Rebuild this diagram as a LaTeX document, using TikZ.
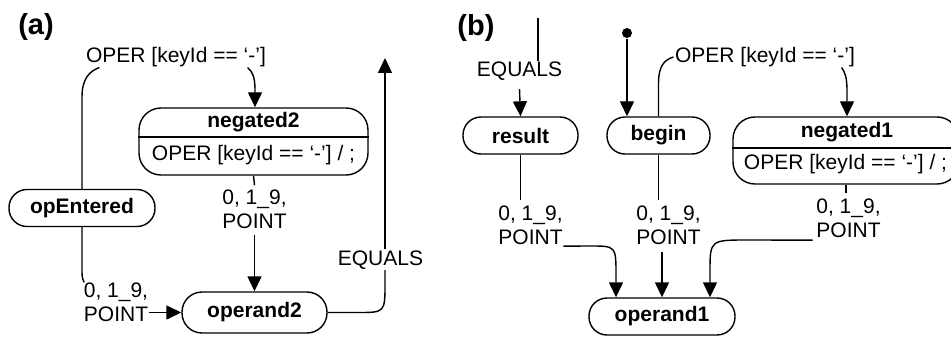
\documentclass[tikz,border=0pt]{standalone}
\usepackage{fontspec}
\setmainfont{Liberation Sans}
\usetikzlibrary{arrows.meta}
\begin{document}
\begin{tikzpicture}[x=1pt,y=-1pt,line width=1.4pt,
  arr/.style={-{Triangle[length=15pt,width=14pt]}},
  state/.style={draw,rounded corners=18pt,minimum height=37pt,inner sep=0pt,
    font=\bfseries\fontsize{21}{24}\selectfont},
  negbox/.style={draw,rounded corners=22pt,minimum height=67pt,inner sep=0pt},
  btxt/.style={inner sep=0pt,font=\bfseries\fontsize{21}{24}\selectfont},
  lbl/.style={inner sep=0pt,align=center,font=\fontsize{21}{24}\selectfont},
  panel/.style={inner sep=0pt,font=\bfseries\fontsize{29}{30}\selectfont}]
\useasboundingbox (0,0) rectangle (951,337);
\clip (0,0) rectangle (951,337);
% ---------- panel (a)
\node[panel] (pa) at (36,27) {(a)};
\node[lbl] (la1) at (176,57) {OPER [keyId == `-']};
\node[negbox,minimum width=229pt] (neg2) at (253.5,141.5) {};
\draw (neg2.west |- 0,137) -- (neg2.east |- 0,137);
\node[btxt] (neg2t) at (253.5,122.5) {negated2};
\node[lbl] (neg2b) at (253.5,155) {OPER [keyId == `-'] / ;};
\node[state,minimum width=146pt] (opE) at (82,208) {opEntered};
\node[state,minimum width=145pt,minimum height=41pt,rounded corners=20pt] (op2) at (254.5,312.5) {operand2};
\node[lbl] (la2) at (116,302.5) {0, 1\_9,\\POINT};
\node[lbl] (la3) at (254.5,209.5) {0, 1\_9,\\POINT};
\node[lbl] (la4) at (380.5,260) {EQUALS};
\coordinate (outA) at (385,58);
\draw (opE.north) -- (82,97) .. controls (82,78) and (90,71) .. ([xshift=14pt]la1.south west);
\draw[arr] ([xshift=-19pt]la1.south east) .. controls (253,72) and (255,78) .. (255,90) -- (neg2.north -| 255,0);
\draw (opE.south) -- (82,272) .. controls (82,278) and (83,280) .. ([xshift=1pt]la2.north west);
\draw[arr] (la2.east |- op2.west) -- (op2.west);
\draw (neg2.south) -- ([yshift=4pt]la3.north);
\draw[arr] ([yshift=-5pt]la3.south) -- (op2.north);
\draw (op2.east) -- (358,312.5) .. controls (385,312.5) .. (385,283) -- (385,270);
\draw[arr] (385,249) -- (outA);
% ---------- panel (b)
\node[panel] (pb) at (476,28) {(b)};
\coordinate (inB) at (538,18);
\node[lbl] (lb0) at (519.5,71) {EQUALS};
\node[state,minimum width=115pt] (res) at (520.5,135.5) {result};
\node[state,minimum width=103pt] (beg) at (658.5,135.5) {begin};
\node[circle,fill,inner sep=0pt,minimum size=10pt] (init) at (627,33) {};
\node[lbl] (lb1) at (765,57) {OPER [keyId == `-']};
\node[negbox,minimum width=226pt] (neg1) at (846,150.5) {};
\draw (neg1.west |- 0,148) -- (neg1.east |- 0,148);
\node[btxt] (neg1t) at (847,132) {negated1};
\node[lbl] (neg1b) at (845.5,164) {OPER [keyId == `-'] / ;};
\node[state,minimum width=146pt] (op1) at (662,316.5) {operand1};
\node[lbl] (lb2) at (530.5,225) {0, 1\_9,\\POINT};
\node[lbl] (lb3) at (668.5,225) {0, 1\_9,\\POINT};
\node[lbl] (lb4) at (848.5,218) {0, 1\_9,\\POINT};
\draw (inB) -- (538,61);
\draw[arr] ([yshift=-8pt]lb0.south) -- (res.north);
\draw[arr] (init) -- (init |- beg.north);
\draw (beg.north) -- (658.5,84) .. controls (658.5,66) and (664,60) .. ([xshift=-1pt]lb1.west);
\draw[arr] ([xshift=-14pt]lb1.south east) .. controls (845,72) and (847,78) .. (847,90) -- (neg1.north -| 847,0);
\draw (res.south) -- (520.5,200);
\draw (beg.south) -- (658.5,200);
\draw (neg1.south) -- (846,193);
\draw[arr] ([yshift=-1pt]lb2.south east) -- (590,246) .. controls (616,246) .. (616,275) -- (op1.north -| 616,0);
\draw[arr] (662,252) -- (op1.north);
\draw[arr] ([xshift=-3pt,yshift=-2pt]lb4.south west) -- (748,240) .. controls (710,240) .. (710,272) -- (op1.north -| 710,0);
\end{tikzpicture}
\end{document}
